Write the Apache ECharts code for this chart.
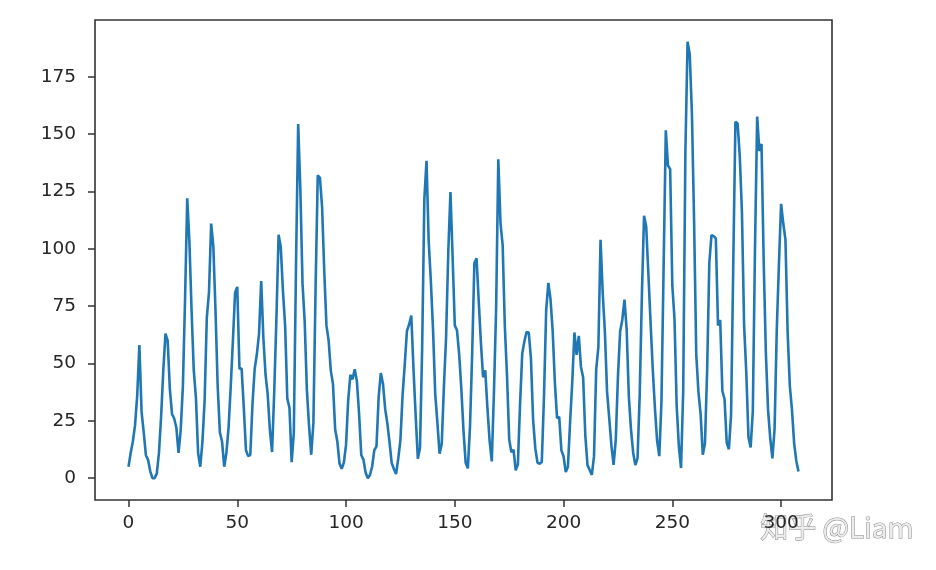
<!DOCTYPE html>
<html><head><meta charset="utf-8">
<script src="https://cdn.jsdelivr.net/npm/echarts@6/dist/echarts.min.js"></script>
<style>html,body{margin:0;padding:0;background:#fff}#c{width:936px;height:570px}</style>
</head><body><div id="c"></div>
<script>
const sunspots = [
5.0,11.0,16.0,23.0,36.0,58.0,29.0,20.0,10.0,8.0,
3.0,0.0,0.0,2.0,11.0,27.0,47.0,63.0,60.0,39.0,
28.0,26.0,22.0,11.0,21.0,40.0,78.0,122.0,103.0,73.0,
47.0,35.0,11.0,5.0,16.0,34.0,70.0,81.0,111.0,101.0,
73.0,40.0,20.0,16.0,5.0,11.0,22.0,40.0,60.0,80.9,
83.4,47.7,47.8,30.7,12.2,9.6,10.2,32.4,47.6,54.0,
62.9,85.9,61.2,45.1,36.4,20.9,11.4,37.8,69.8,106.1,
100.8,81.6,66.5,34.8,30.6,7.0,19.8,92.5,154.4,125.9,
84.8,68.1,38.5,22.8,10.2,24.1,82.9,132.0,130.9,118.1,
89.9,66.6,60.0,46.9,41.0,21.3,16.0,6.4,4.1,6.8,
14.5,34.0,45.0,43.1,47.5,42.2,28.1,10.1,8.1,2.5,
0.0,1.4,5.0,12.2,13.9,35.4,45.8,41.1,30.1,23.9,
15.6,6.6,4.0,1.8,8.5,16.6,36.3,49.6,64.2,67.0,
70.9,47.8,27.5,8.5,13.2,56.9,121.5,138.3,103.2,85.7,
64.6,36.7,24.2,10.7,15.0,40.1,61.5,98.5,124.7,96.3,
66.6,64.5,54.1,39.0,20.6,6.7,4.3,22.7,54.8,93.8,
95.8,77.2,59.1,44.0,47.0,30.5,16.3,7.3,37.6,74.0,
139.0,111.2,101.6,66.2,44.7,17.0,11.3,12.4,3.4,6.0,
32.3,54.3,59.7,63.7,63.5,52.2,25.4,13.1,6.8,6.3,
7.1,35.6,73.0,85.1,78.0,64.0,41.8,26.2,26.7,12.1,
9.5,2.7,5.0,24.4,42.0,63.5,53.8,62.0,48.5,43.9,
18.6,5.7,3.6,1.4,9.6,47.4,57.1,103.9,80.6,63.6,
37.6,26.1,14.2,5.8,16.7,44.3,63.9,69.0,77.8,64.9,
35.7,21.2,11.1,5.7,8.7,36.1,79.7,114.4,109.6,88.8,
67.8,47.5,30.6,16.3,9.6,33.2,92.6,151.6,136.3,134.7,
83.9,69.4,31.5,13.9,4.4,38.0,141.7,190.2,184.8,159.0,
112.3,53.9,37.6,27.9,10.2,15.1,47.0,93.8,105.9,105.5,
104.5,66.6,68.9,38.0,34.5,15.5,12.6,27.5,92.5,155.4,
154.6,140.4,115.9,66.6,45.9,17.9,13.4,29.2,100.2,157.6,
142.6,145.7,94.3,54.6,29.9,17.5,8.6,21.5,64.3,93.3,
119.6,111.0,104.0,63.7,40.4,29.8,15.2,7.5,2.9
];
const xTicks = [0,50,100,150,200,250,300];
const yTicks = [0,25,50,75,100,125,150,175];
const watermark = '知乎 @Liam';

const n = sunspots.length;
const xPad = (n - 1) * 0.05;
const yMaxV = Math.max(...sunspots), yMinV = Math.min(...sunspots);
const yPad = (yMaxV - yMinV) * 0.05;
const pairs = sunspots.map((v, i) => [i, v]);

const chart = echarts.init(document.getElementById('c'), null, {renderer: 'canvas'});
const lbl = {color: '#262626', fontFamily: 'DejaVu Sans', fontSize: 18.5};
chart.setOption({
  animation: false,
  backgroundColor: '#fff',
  grid: {left: 95, right: 104, top: 20, bottom: 70, show: true, borderColor: '#333', borderWidth: 1.6, backgroundColor: 'transparent'},
  xAxis: {
    type: 'value', min: -xPad, max: (n - 1) + xPad,
    axisLine: {show: false, onZero: false},
    splitLine: {show: false},
    axisTick: {show: true, length: 7, lineStyle: {color: '#333', width: 1.5}, customValues: xTicks},
    axisLabel: Object.assign({margin: 14, customValues: xTicks, formatter: v => String(v)}, lbl)
  },
  yAxis: {
    type: 'value', min: yMinV - yPad, max: yMaxV + yPad,
    axisLine: {show: false, onZero: false},
    splitLine: {show: false},
    axisTick: {show: true, length: 7, lineStyle: {color: '#333', width: 1.5}, customValues: yTicks},
    axisLabel: Object.assign({margin: 19, customValues: yTicks, formatter: v => String(v)}, lbl)
  },
  series: [{
    type: 'line', data: pairs, showSymbol: false, symbol: 'none',
    lineStyle: {color: '#1f77b4', width: 2.6}
  }],
  graphic: [{
    type: 'text', right: 22, top: 513,
    style: {text: watermark, fontSize: 28, fontFamily: 'Noto Sans CJK SC', fill: '#ececec', stroke: '#8a8a8a', lineWidth: 1}
  }]
});
</script></body></html>
